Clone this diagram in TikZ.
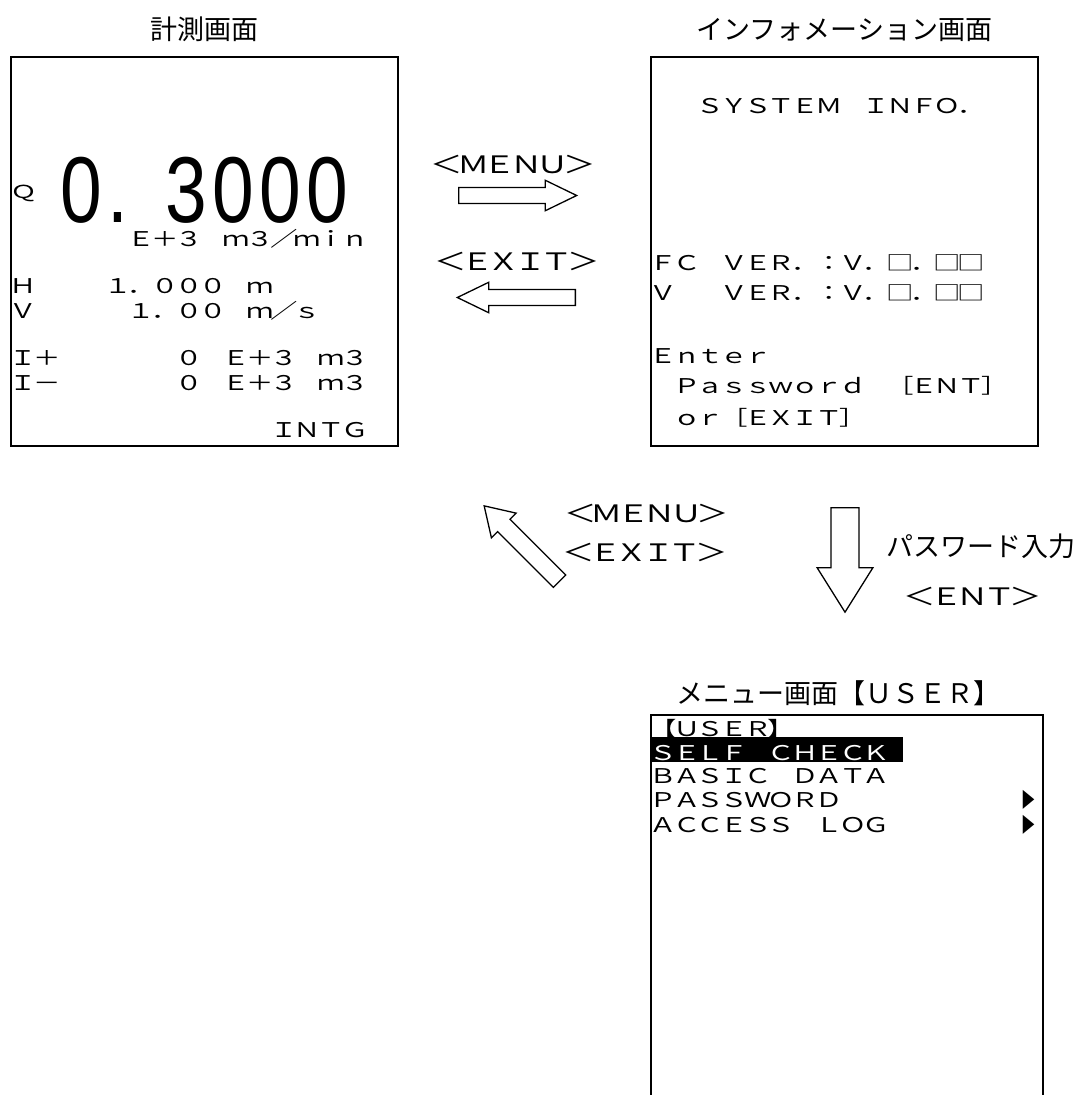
\documentclass[tikz,border=0pt]{standalone}
\usepackage{fontspec}
\usepackage{graphicx}
\setmainfont{Noto Sans CJK JP}
\newfontfamily\lcdfont[LetterSpace=-13.5]{Noto Sans CJK JP}
\newfontfamily\keyfont[LetterSpace=-18.2]{Noto Sans CJK JP}
\newfontfamily\numfont[LetterSpace=7.2]{Liberation Sans}
\newcommand\wide[1]{\scalebox{1.35}[1]{#1}}
\usetikzlibrary{positioning,shapes.arrows}

\begin{document}
\begin{tikzpicture}[x=1pt,y=-1pt,
		screen/.style={draw,line width=2pt,minimum width=387pt,minimum height=389pt,inner sep=0pt},
		title/.style={font=\fontsize{27}{27}\selectfont,inner sep=0pt},
		lcd/.style={font=\lcdfont\fontsize{20.3}{20.3}\selectfont,inner sep=0pt,anchor=base west},
		key/.style={font=\keyfont\fontsize{24}{24}\selectfont,inner sep=0pt},
		blockarrow/.style={single arrow,draw,line width=1.3pt,fill=white,inner xsep=0pt,
			single arrow head indent=0pt,anchor=tail},
	]
		\useasboundingbox (0,0) rectangle (1080,1095);

		\node[screen] (meas) at (204.5,251.5) {};
		\node[screen] (info) at (844.5,251.5) {};
		\node[title,above=14pt of meas] (meastitle) {計測画面};
		\node[title,above=14pt of info] (infotitle) {インフォメーション画面};

		\node[lcd,font=\lcdfont\fontsize{18}{18}\selectfont] (q) at (10.5,198) {\scalebox{1.5}[1]{Ｑ}};
		\node[anchor=base west,inner sep=0pt,font=\numfont\fontsize{93.6}{94}\selectfont] (flow)
			at (60,222) {\scalebox{0.8}[1]{0. \hspace{3pt}3000}};
		\node[lcd] (unit) at (127.7,246) {\wide{Ｅ＋３　ｍ３／ｍｉｎ}};
		\node[lcd] (hrow) at (9.2,293) {\wide{Ｈ　　　１．０００　ｍ}};
		\node[lcd] (vrow) at (9.2,318) {\wide{Ｖ　　　　１．００　ｍ／ｓ}};
		\node[lcd] (iplus) at (9.2,365) {\wide{Ｉ＋　　　　　０　Ｅ＋３　ｍ３}};
		\node[lcd] (iminus) at (9.2,390) {\wide{Ｉ－　　　　　０　Ｅ＋３　ｍ３}};
		\node[lcd] (intg) at (269.9,437) {\wide{ＩＮＴＧ}};

		\node[lcd] (sysinfo) at (696.6,113) {\wide{ＳＹＳＴＥＭ　ＩＮＦＯ．}};
		\node[lcd] (fcver) at (649.2,270) {\wide{ＦＣ　ＶＥＲ．：Ｖ．□．□□}};
		\node[lcd] (vver) at (649.2,300) {\wide{Ｖ　　ＶＥＲ．：Ｖ．□．□□}};
		\node[lcd] (enter) at (649.2,363) {\wide{Ｅｎｔｅｒ}};
		\node[lcd] (pwd) at (672.9,393) {\wide{Ｐａｓｓｗｏｒｄ　［ＥＮＴ］}};
		\node[lcd] (orexit) at (672.9,425) {\wide{ｏｒ［ＥＸＩＴ］}};

		\node[blockarrow,inner ysep=7.3pt,single arrow head extend=7.3pt,single arrow tip angle=51.8,
			minimum height=118pt] (toinfo) at (458,195.5) {};
		\node[blockarrow,inner ysep=7.3pt,single arrow head extend=7.3pt,single arrow tip angle=51.8,
			minimum height=118pt,rotate=180] (tomeas) at (576,297.5) {};
		\node[key] (menukey) at (513,164) {\wide{＜ＭＥＮＵ＞}};
		\node[key] (exitkey) at (517,261) {\wide{＜ＥＸＩＴ＞}};

		\node[blockarrow,inner ysep=8.1pt,single arrow head extend=8.7pt,single arrow tip angle=64.4,
			minimum height=106.6pt,rotate=135] (back) at (560,581.7) {};
		\node[key] (backmenu) at (646.5,513) {\wide{＜ＭＥＮＵ＞}};
		\node[key] (backexit) at (645,552) {\wide{＜ＥＸＩＴ＞}};

		\node[blockarrow,inner ysep=13.3pt,single arrow head extend=13.9pt,single arrow tip angle=64.2,
			minimum height=104.5pt,rotate=-90] (tomenu) at (845,507) {};
		\node[title] (pwinput) at (981,546) {パスワード入力};
		\node[key] (entkey) at (973,596) {\wide{＜ＥＮＴ＞}};

		\node[title] (menutitle) at (838,693) {メニュー画面【ＵＳＥＲ】};
		\draw[line width=2pt] (651,1095) |- (1043,715) -- (1043,1095);
		\fill (651,737) rectangle (903,762);
		\node[lcd] (user) at (649.2,736) {\wide{【ＵＳＥＲ】}};
		\node[lcd,text=white] (selfcheck) at (649.2,760) {\wide{ＳＥＬＦ　ＣＨＥＣＫ}};
		\node[lcd] (basic) at (649.2,783) {\wide{ＢＡＳＩＣ　ＤＡＴＡ}};
		\node[lcd] (password) at (649.2,807) {\wide{ＰＡＳＳＷＯＲＤ}};
		\node[lcd] (accesslog) at (649.2,832) {\wide{ＡＣＣＥＳＳ　ＬＯＧ}};
		\node[lcd,anchor=base east] (pwmark) at (1036,807) {\scalebox{0.7}[1]{▶}};
		\node[lcd,anchor=base east] (logmark) at (1036,832) {\scalebox{0.7}[1]{▶}};
	\end{tikzpicture}
\end{document}
